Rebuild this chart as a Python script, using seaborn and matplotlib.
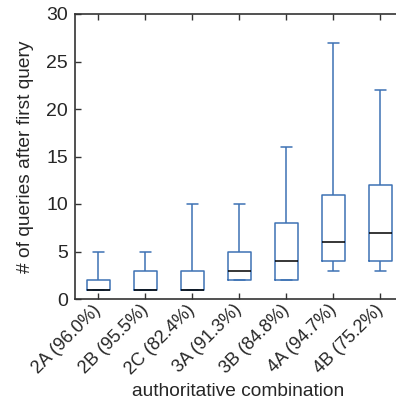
import pandas as pd
import numpy as np
import matplotlib
matplotlib.use('Agg')
import matplotlib.pyplot as plt
import seaborn as sns

# Whisker low, Q1, median, Q3, whisker high per combination
combos = ['2A (96.0%)', '2B (95.5%)', '2C (82.4%)', '3A (91.3%)',
          '3B (84.8%)', '4A (94.7%)', '4B (75.2%)']
lo = [1, 1, 1, 2, 2, 3, 3]
q1 = [1, 1, 1, 2, 2, 4, 4]
med = [1, 1, 1, 3, 4, 6, 7]
q3 = [2, 3, 3, 5, 8, 11, 12]
hi = [5, 5, 10, 10, 16, 27, 22]

# five values per combination reproduce exactly these quartiles
rows = []
for i, c in enumerate(combos):
    for v in (lo[i], q1[i], med[i], q3[i], hi[i]):
        rows.append({'combo': c, 'queries': v})
data = pd.DataFrame(rows)

sns.set_style('ticks')
plt.rcParams['font.family'] = ['Liberation Sans', 'DejaVu Sans']
fs = 13.8

fig = plt.figure(figsize=(3.96, 4.08), dpi=100)
ax = fig.add_axes([75 / 396, 1 - 299 / 408, 321 / 396, 285 / 408])

blue = '#3d72b4'
sns.boxplot(data=data, x='combo', y='queries', order=combos, ax=ax,
            fill=False, color=blue, width=0.5, whis=(0, 100), linewidth=1.1,
            medianprops={'color': 'black', 'linewidth': 1.1})

ax.set_ylim(0, 30)
ax.set_xlim(-0.5, 6.33)
ax.set_yticks(range(0, 31, 5))
ax.set_xlabel('authoritative combination', fontsize=fs)
ax.xaxis.set_label_coords((238.5 - 75) / 321, -0.293)
ax.set_ylabel('# of queries after first query', fontsize=fs, labelpad=9)
ax.tick_params(direction='in', length=4, width=1, color='#333333',
               top=True, labelsize=14, pad=5)
ax.tick_params(axis='x', pad=6, labelsize=13)
for lab in ax.get_xticklabels():
    lab.set_rotation(45)
    lab.set_ha('right')
    lab.set_va('center')
    lab.set_rotation_mode('anchor')
for s in ['left', 'bottom', 'top']:
    ax.spines[s].set_color('#333333')
    ax.spines[s].set_linewidth(1.2)
ax.spines['right'].set_visible(False)

fig.savefig('out.png', dpi=100)
